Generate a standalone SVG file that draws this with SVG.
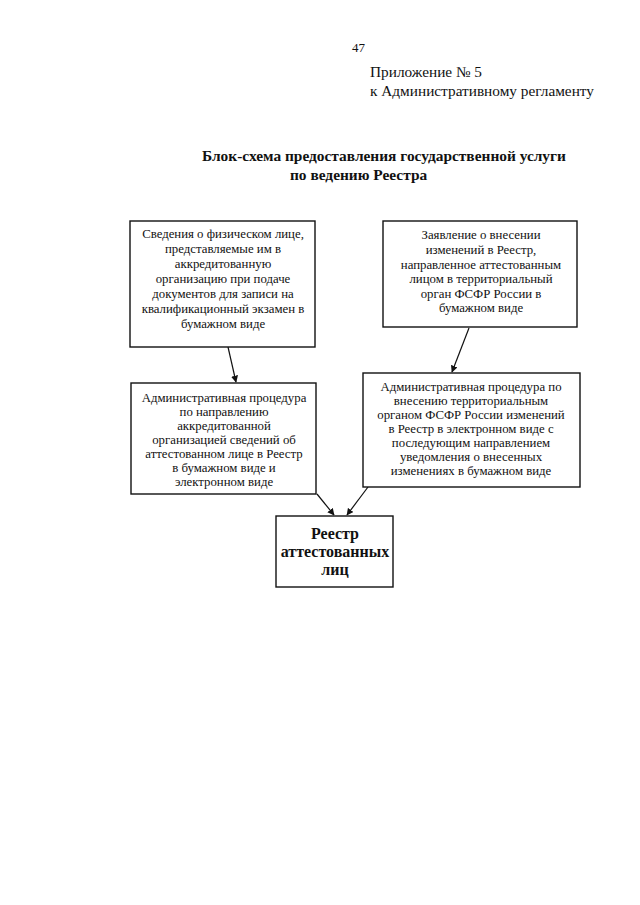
<svg xmlns="http://www.w3.org/2000/svg" width="640" height="905" viewBox="0 0 640 905">
<style>
text{font-family:"Liberation Serif","Times New Roman",serif;fill:#111}
.h{font-size:15.3px}
.t{font-size:15.4px;font-weight:bold}
.b{font-size:12.8px;text-anchor:middle}
.r{font-size:16px;font-weight:bold;text-anchor:middle}
rect{fill:#fff;stroke:#111;stroke-width:1.4}
.c line{stroke:#111;stroke-width:1.2;marker-end:url(#ah)}
</style>
<defs>
<marker id="ah" viewBox="0 0 10 10" refX="9" refY="5" markerWidth="7" markerHeight="7" orient="auto" markerUnits="userSpaceOnUse">
<path d="M0,0 L10,5 L0,10 z" fill="#111"/>
</marker>
</defs>
<rect x="0" y="0" width="640" height="905" style="stroke:none;fill:#fff"/>
<g id="header">
<text x="352" y="52" style="font-size:13px">47</text>
<text class="h" x="370" y="77">Приложение № 5</text>
<text class="h" x="370" y="96">к Административному регламенту</text>
<text class="t" x="202" y="161">Блок-схема предоставления государственной услуги</text>
<text class="t" x="290" y="180">по ведению Реестра</text>
</g>
<g class="c" id="connectors">
<line x1="228" y1="347" x2="236" y2="382"/>
<line x1="469" y1="328" x2="452" y2="372"/>
<line x1="317" y1="494" x2="334" y2="515"/>
<line x1="368" y1="487" x2="347" y2="515"/>
</g>
<g id="n1">
<rect x="130" y="221" width="185" height="126"/>
<text class="b" x="223" y="238">Сведения о физическом лице,</text>
<text class="b" x="223" y="253">представляемые им в</text>
<text class="b" x="223" y="268">аккредитованную</text>
<text class="b" x="223" y="283">организацию при подаче</text>
<text class="b" x="223" y="298">документов для записи на</text>
<text class="b" x="223" y="313">квалификационный экзамен в</text>
<text class="b" x="223" y="328">бумажном виде</text>
</g>
<g id="n2">
<rect x="383" y="221" width="194" height="106"/>
<text class="b" x="481" y="239">Заявление о внесении</text>
<text class="b" x="481" y="254">изменений в Реестр,</text>
<text class="b" x="481" y="268.5">направленное аттестованным</text>
<text class="b" x="481" y="283">лицом в территориальный</text>
<text class="b" x="481" y="297.5">орган ФСФР России в</text>
<text class="b" x="481" y="312">бумажном виде</text>
</g>
<g id="n3">
<rect x="131" y="383" width="185" height="111"/>
<text class="b" x="224" y="402">Административная процедура</text>
<text class="b" x="224" y="416">по направлению</text>
<text class="b" x="224" y="430">аккредитованной</text>
<text class="b" x="224" y="444">организацией сведений об</text>
<text class="b" x="224" y="458">аттестованном лице в Реестр</text>
<text class="b" x="224" y="472">в бумажном виде и</text>
<text class="b" x="224" y="486">электронном виде</text>
</g>
<g id="n4">
<rect x="363" y="373" width="217" height="114"/>
<text class="b" x="471" y="391">Административная процедура по</text>
<text class="b" x="471" y="405">внесению территориальным</text>
<text class="b" x="471" y="419">органом ФСФР России изменений</text>
<text class="b" x="471" y="433">в Реестр в электронном виде с</text>
<text class="b" x="471" y="447">последующим направлением</text>
<text class="b" x="471" y="461">уведомления о внесенных</text>
<text class="b" x="471" y="475">изменениях в бумажном виде</text>
</g>
<g id="n5">
<rect x="276" y="516" width="117" height="71"/>
<text class="r" x="335" y="539">Реестр</text>
<text class="r" x="335" y="557">аттестованных</text>
<text class="r" x="335" y="575">лиц</text>
</g>
</svg>
